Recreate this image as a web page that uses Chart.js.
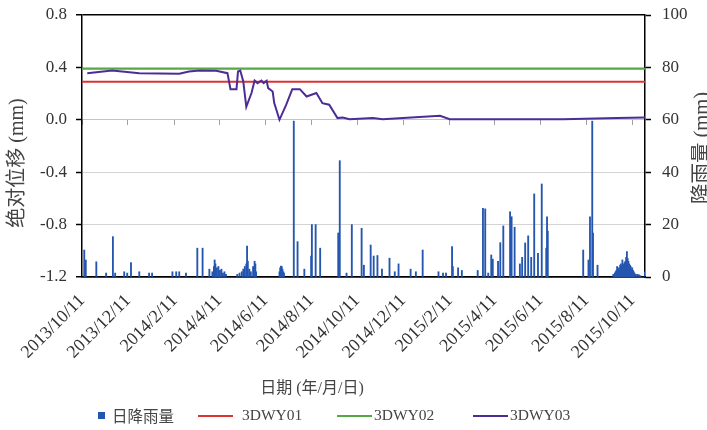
<!DOCTYPE html>
<html>
<head>
<meta charset="utf-8">
<script src="https://cdn.jsdelivr.net/npm/chart.js@4.4.1/dist/chart.umd.min.js"></script>
<style>
  html,body{margin:0;padding:0;background:#fff;}
  #wrap{position:relative;width:707px;height:430px;background:#fff;overflow:hidden;}
  #c{position:absolute;left:0;top:0;}
  .lg{position:absolute;top:405px;height:20px;line-height:20px;color:#444;white-space:nowrap;}
  .lgtxt{font-family:'Liberation Serif','Noto Sans CJK SC',serif;font-size:15.5px;}
  .lgcjk{font-family:'Noto Sans CJK SC',sans-serif;font-size:15.5px;}
  .sw{position:absolute;height:2px;top:10px;}
  .sq{position:absolute;width:7px;height:7px;top:7px;}
</style>
</head>
<body>
<div id="wrap">
  <canvas id="c" width="707" height="430"></canvas>
  <div id="legend"></div>
</div>
<script>
// ---------- data ----------
const startDate = '2013-10-11';
const endDate = '2015-10-28';

const xTitle = '日期 (年/月/日)';
const yTitle = '绝对位移 (mm)';
const y1Title = '降雨量 (mm)';

const seriesNames = ['日降雨量', '3DWY01', '3DWY02', '3DWY03'];

// daily rainfall (mm), days not listed had no visible rain
const rainDates = [
 '2013-10-14','2013-10-16','2013-10-30','2013-11-12','2013-11-21','2013-11-24','2013-12-06','2013-12-10','2013-12-15','2013-12-26',
 '2014-01-08','2014-01-12','2014-02-08','2014-02-13','2014-02-17','2014-02-26',
 '2014-03-13','2014-03-20','2014-03-29',
 '2014-04-02','2014-04-04','2014-04-05','2014-04-06','2014-04-07','2014-04-08','2014-04-10','2014-04-11','2014-04-12','2014-04-14','2014-04-16','2014-04-18','2014-04-20',
 '2014-05-05','2014-05-08','2014-05-11','2014-05-13','2014-05-15','2014-05-17','2014-05-18','2014-05-19','2014-05-21','2014-05-23','2014-05-26','2014-05-28','2014-05-29','2014-05-30',
 '2014-06-30','2014-07-01','2014-07-02','2014-07-03','2014-07-04','2014-07-05','2014-07-06',
 '2014-07-19','2014-07-24','2014-08-02','2014-08-11','2014-08-12','2014-08-17','2014-08-23',
 '2014-09-16','2014-09-18','2014-09-27','2014-10-04','2014-10-17','2014-10-20','2014-10-29',
 '2014-11-02','2014-11-07','2014-11-13','2014-11-23','2014-11-30','2014-12-05','2014-12-21','2014-12-28',
 '2015-01-06','2015-01-27','2015-02-02','2015-02-06','2015-02-14','2015-02-15','2015-02-22','2015-02-27',
 '2015-03-20','2015-03-27','2015-03-30','2015-04-03','2015-04-07','2015-04-09','2015-04-16','2015-04-19','2015-04-23',
 '2015-05-02','2015-05-04','2015-05-08','2015-05-15','2015-05-18','2015-05-22','2015-05-26','2015-05-30',
 '2015-06-03','2015-06-08','2015-06-13','2015-06-19','2015-06-20','2015-06-21',
 '2015-08-07','2015-08-14','2015-08-16','2015-08-19','2015-08-20','2015-08-26',
 '2015-09-16','2015-09-18','2015-09-19','2015-09-20','2015-09-21','2015-09-22','2015-09-23','2015-09-24','2015-09-25','2015-09-26',
 '2015-09-27','2015-09-28','2015-09-29','2015-09-30','2015-10-01','2015-10-02','2015-10-03','2015-10-04','2015-10-05','2015-10-06',
 '2015-10-07','2015-10-08','2015-10-09','2015-10-10','2015-10-11','2015-10-12','2015-10-13','2015-10-14','2015-10-16','2015-10-18',
 '2015-10-20','2015-10-22','2015-10-28'
];
const rainValues = [
 10.3,6.5,5.8,1.5,15.4,1.5,2,1.5,5.5,2,
 1.5,1.5,2,2,2,1.5,
 11,11,3,
 2,4,6.5,5,3,3.5,4,2.5,2.5,3,1.5,2,1,
 1,1.5,2,3,4,5,11.8,6,3,2,4,6,5,2,
 2,3.5,4.2,4,3,2,1.5,
 59.5,13.5,3,8,20,20,11,
 16.8,44.4,1.5,20,18.6,4.5,12.2,
 8,8.2,3,7.2,2,5,3,2,
 10.3,2,1.5,1.5,11.6,4,3.5,2.5,
 2.5,26.2,26,1.5,8.4,6.8,6,13.1,19.5,
 24.9,23,19,5,7.5,13,15.7,7.5,
 31.7,9,35.5,11,23,17.5,
 10.3,6.5,23,59.5,16.8,4.5,
 1,1.5,2,2.5,4,3,3.5,2.5,4.5,5,
 4,6.5,5,4.5,5.5,6,7.5,9.7,7,6,
 5,4.5,4,3,3.5,2.5,2,1.5,1,1,
 0.8,0.5,2
];

// absolute displacement (mm)
const wy01Dates = ['2013-10-11', '2015-10-28'];
const wy01Values = [0.29, 0.29];
const wy02Dates = ['2013-10-11', '2015-10-28'];
const wy02Values = [0.39, 0.39];
const wy03Dates = [
 '2013-10-18','2013-11-20','2013-12-26','2014-02-17','2014-03-02','2014-03-16','2014-04-07','2014-04-22','2014-04-26','2014-05-04',
 '2014-05-06','2014-05-09','2014-05-13','2014-05-17','2014-05-24','2014-05-28','2014-06-01','2014-06-06','2014-06-09','2014-06-13',
 '2014-06-15','2014-06-21','2014-06-23','2014-06-30','2014-07-09','2014-07-17','2014-07-27','2014-08-05','2014-08-18','2014-08-26',
 '2014-09-04','2014-09-15','2014-09-22','2014-10-01','2014-11-01','2014-11-14','2014-12-11','2015-01-29','2015-02-11','2015-04-15',
 '2015-07-11','2015-09-21','2015-10-28'
];
const wy03Values = [
 0.356,0.376,0.356,0.351,0.369,0.376,0.374,0.356,0.234,0.234,
 0.369,0.376,0.292,0.099,0.206,0.300,0.280,0.300,0.280,0.298,
 0.242,0.216,0.130,0.000,0.115,0.234,0.234,0.178,0.204,0.127,
 0.115,0.013,0.018,0.005,0.013,0.005,0.013,0.030,0.005,0.005,
 0.005,0.013,0.018
];

// axis ticks
const yMin = -1.2, yMax = 0.8, yStep = 0.4;
const y1Min = 0, y1Max = 100, y1Step = 20;
const labelMonths = [2, 4, 6, 8, 10, 12]; // x labels on the 11th of these months
const labelDay = 11;

// ---------- build ----------
function dayList(a, b) {
  const out = [];
  const pa = a.split('-').map(Number), pb = b.split('-').map(Number);
  let t = Date.UTC(pa[0], pa[1]-1, pa[2]);
  const te = Date.UTC(pb[0], pb[1]-1, pb[2]);
  while (t <= te) {
    const d = new Date(t);
    out.push(d.getUTCFullYear() + '-' + String(d.getUTCMonth()+1).padStart(2,'0') + '-' + String(d.getUTCDate()).padStart(2,'0'));
    t += 86400000;
  }
  return out;
}
const categories = dayList(startDate, endDate);
function isMark(i) {
  const p = categories[i].split('-').map(Number);
  return p[2] === labelDay && labelMonths.includes(p[1]);
}
function fmt(i) {
  const p = categories[i].split('-').map(Number);
  return p[0] + '/' + p[1] + '/' + p[2];
}
const pts = (ds, vs) => ds.map((d, i) => ({x: d, y: vs[i]}));

const C = {
  rain: '#2456b0',
  r: '#dd3333',
  g: '#55a845',
  p: '#4c2d96',
  text: '#333333'
};
const serif = "'Liberation Serif', 'Noto Sans CJK SC', serif";

const titlePlugin = {
  id: 'titles',
  afterDraw(chart) {
    const c = chart.ctx;
    c.save();
    c.fillStyle = '#444';
    c.textAlign = 'center';
    c.textBaseline = 'middle';
    c.font = '16px ' + serif;
    c.fillText(xTitle, 312, 389);
    c.save();
    c.translate(18, 163);
    c.rotate(-Math.PI / 2);
    c.font = '20px ' + serif;
    c.fillText(yTitle, 0, 0);
    c.restore();
    c.save();
    c.translate(703, 148);
    c.rotate(-Math.PI / 2);
    c.font = '20.5px ' + serif;
    c.fillText(y1Title, 0, 0);
    c.restore();
    c.restore();
  }
};

const near = (v, t) => Math.abs(v - t) < 1e-6;

new Chart(document.getElementById('c'), {
  type: 'bar',
  data: {
    labels: categories,
    datasets: [
      { type: 'line', label: seriesNames[3], data: pts(wy03Dates, wy03Values), xAxisID: 'x', yAxisID: 'y',
        borderColor: C.p, borderWidth: 2, pointRadius: 0, tension: 0, order: 1 },
      { type: 'line', label: seriesNames[2], data: pts(wy02Dates, wy02Values), xAxisID: 'x', yAxisID: 'y',
        borderColor: C.g, borderWidth: 2, pointRadius: 0, tension: 0, order: 2 },
      { type: 'line', label: seriesNames[1], data: pts(wy01Dates, wy01Values), xAxisID: 'x', yAxisID: 'y',
        borderColor: C.r, borderWidth: 2, pointRadius: 0, tension: 0, order: 3 },
      { type: 'bar', label: seriesNames[0], data: pts(rainDates, rainValues), xAxisID: 'x', yAxisID: 'y1',
        backgroundColor: C.rain, barThickness: 1.2, order: 4 }
    ]
  },
  options: {
    responsive: false,
    animation: false,
    devicePixelRatio: 1,
    layout: { padding: { left: 0, right: 0, top: 15, bottom: 0 } },
    plugins: { legend: { display: false }, tooltip: { enabled: false } },
    scales: {
      x: {
        type: 'category',
        position: 'bottom',
        offset: false,
        grid: { display: false, offset: false, drawTicks: false },
        border: { display: true, color: '#000', width: 1.5 },
        ticks: {
          autoSkip: false, minRotation: 45, maxRotation: 45, padding: 19,
          color: C.text, font: { family: serif, size: 18, lineHeight: 0.3 },
          callback: (v, i) => isMark(i) ? fmt(i) : ''
        },
        afterFit: s => { s.height = 153; }
      },
      x2: {
        type: 'category',
        position: { y: 0 },
        offset: false,
        grid: { display: true, offset: false, drawOnChartArea: false, drawTicks: true, tickLength: 5, lineWidth: 1,
          tickColor: ctx => isMark(ctx.index) ? '#a0a0a0' : 'rgba(0,0,0,0)' },
        border: { display: true, color: '#c4c4c4', width: 1 },
        ticks: { display: false, autoSkip: false }
      },
      y: {
        type: 'linear',
        position: 'left',
        min: yMin, max: yMax,
        grid: {
          color: ctx => (near(ctx.tick.value, yMax) || near(ctx.tick.value, yMin)) ? '#000' : '#d4d4d4',
          lineWidth: ctx => (near(ctx.tick.value, yMax) || near(ctx.tick.value, yMin)) ? 1.5 : 1,
          tickColor: '#000', tickLength: 6, tickWidth: 1.5
        },
        border: { display: true, color: '#000', width: 1.5 },
        ticks: {
          stepSize: yStep, padding: 9, color: C.text, font: { family: serif, size: 17, lineHeight: 0.3 },
          callback: v => (Math.abs(v) < 1e-9 ? 0 : v).toFixed(1)
        },
        afterFit: s => { s.width = 82; }
      },
      y1: {
        type: 'linear',
        position: 'right',
        min: y1Min, max: y1Max,
        grid: { drawOnChartArea: false, tickColor: '#000', tickLength: 6, tickWidth: 1.5 },
        border: { display: true, color: '#000', width: 1.5 },
        ticks: { stepSize: y1Step, padding: 11, color: C.text, font: { family: serif, size: 17, lineHeight: 0.3 } },
        afterFit: s => { s.width = 62; }
      }
    }
  },
  plugins: [titlePlugin]
});

// ---------- legend (HTML) ----------
const legendItems = [
  { name: seriesNames[0], kind: 'sq', color: C.rain, sx: 98, tx: 112, cjk: true },
  { name: seriesNames[1], kind: 'ln', color: C.r, sx: 198, sw: 35, tx: 242 },
  { name: seriesNames[2], kind: 'ln', color: C.g, sx: 337, sw: 35, tx: 374 },
  { name: seriesNames[3], kind: 'ln', color: C.p, sx: 473, sw: 35, tx: 510 }
];
const lg = document.getElementById('legend');
legendItems.forEach(it => {
  const sw = document.createElement('div');
  sw.className = 'lg';
  sw.style.left = it.sx + 'px';
  const mark = document.createElement('div');
  mark.className = it.kind === 'sq' ? 'sq' : 'sw';
  mark.style.left = '0px';
  mark.style.background = it.color;
  if (it.kind !== 'sq') mark.style.width = it.sw + 'px';
  sw.appendChild(mark);
  lg.appendChild(sw);
  const t = document.createElement('div');
  t.className = 'lg ' + (it.cjk ? 'lgcjk' : 'lgtxt');
  t.style.left = it.tx + 'px';
  t.textContent = it.name;
  lg.appendChild(t);
});
</script>
</body>
</html>
